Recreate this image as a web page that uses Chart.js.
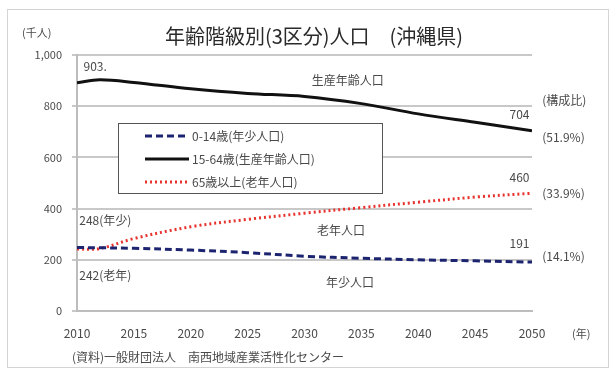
<!DOCTYPE html>
<html lang="ja">
<head>
<meta charset="utf-8">
<title>年齢階級別(3区分)人口 (沖縄県)</title>
<script src="https://cdn.jsdelivr.net/npm/chart.js@4.4.1/dist/chart.umd.min.js"></script>
<style>
  html, body { margin: 0; padding: 0; background: #fff; }
  #wrap { position: relative; width: 613px; height: 374px; }
  #frame { position: absolute; left: 7px; top: 9px; width: 602px; height: 359px; border: 1px solid #d4d4d4; box-sizing: border-box; }
</style>
</head>
<body>
<div id="wrap">
  <div id="frame"></div>
  <canvas id="popChart" width="613" height="374"></canvas>
</div>
<script>
// data (thousand persons)
const years = [2010, 2012, 2015, 2020, 2025, 2030, 2035, 2040, 2045, 2050];
const young = [248, 247, 245, 238, 228, 214, 206, 200, 196, 191];      // 0-14
const working = [892, 903, 893, 868, 850, 838, 810, 770, 737, 704];    // 15-64
const elderly = [242, 244, 283, 329, 358, 382, 404, 425, 445, 460];    // 65+
const seriesNames = ['0-14歳(年少人口)', '15-64歳(生産年齢人口)', '65歳以上(老年人口)'];
const yTicks = [0, 200, 400, 600, 800, 1000];
const xTicks = [2010, 2015, 2020, 2025, 2030, 2035, 2040, 2045, 2050];
const chartTitle = '年齢階級別(3区分)人口　(沖縄県)';

const FONT = '"Noto Sans CJK JP", "Noto Sans", sans-serif';
const TEXT = '#4a4a4a';

const toPoints = arr => arr.map((v, i) => ({ x: years[i], y: v }));

// text labels placed at data coordinates
const notes = [
  { x: 2011.6, y: 955, text: '903.', align: 'center' },
  { x: 2033.8, y: 902, text: '生産年齢人口', align: 'center' },
  { x: 2050.9, y: 822, text: '(構成比)', align: 'left' },
  { x: 2048.9, y: 766, text: '704', align: 'center' },
  { x: 2050.9, y: 678, text: '(51.9%)', align: 'left' },
  { x: 2048.9, y: 520, text: '460', align: 'center' },
  { x: 2050.9, y: 460, text: '(33.9%)', align: 'left' },
  { x: 2010.2, y: 352, text: '248(年少)', align: 'left' },
  { x: 2033.2, y: 316, text: '老年人口', align: 'center' },
  { x: 2048.9, y: 265, text: '191', align: 'center' },
  { x: 2050.9, y: 214, text: '(14.1%)', align: 'left' },
  { x: 2010.2, y: 140, text: '242(老年)', align: 'left' },
  { x: 2034.0, y: 110, text: '年少人口', align: 'center' }
];

const annotations = {
  id: 'annotations',
  afterDatasetsDraw(chart) {
    const { ctx, scales: { x, y } } = chart;
    ctx.save();
    ctx.fillStyle = TEXT;
    ctx.font = '12px ' + FONT;
    ctx.textBaseline = 'middle';
    notes.forEach(n => {
      ctx.textAlign = n.align;
      ctx.fillText(n.text, x.getPixelForValue(n.x), y.getPixelForValue(n.y));
    });

    // title
    ctx.fillStyle = '#2a2a2a';
    ctx.font = '20px ' + FONT;
    ctx.textAlign = 'center';
    ctx.fillText(chartTitle, 314, 36);

    // unit labels
    ctx.fillStyle = TEXT;
    ctx.font = '11px ' + FONT;
    ctx.textAlign = 'left';
    ctx.fillText('(千人)', 22, 33);
    ctx.fillText('(年)', 572, 334);
    ctx.font = '12px ' + FONT;
    ctx.fillText('(資料)一般財団法人　南西地域産業活性化センター', 72, 357);

    // legend box inside the plot
    const bx = 118, by = 123, bw = 264, bh = 70;
    ctx.fillStyle = '#fff';
    ctx.fillRect(bx, by, bw, bh);
    ctx.strokeStyle = '#555';
    ctx.lineWidth = 1;
    ctx.strokeRect(bx + 0.5, by + 0.5, bw, bh);
    chart.data.datasets.forEach((ds, i) => {
      const ly = by + 13 + i * 23;
      ctx.beginPath();
      ctx.setLineDash(ds.borderDash || []);
      ctx.strokeStyle = ds.borderColor;
      ctx.lineWidth = ds.borderWidth;
      ctx.moveTo(145, ly);
      ctx.lineTo(189, ly);
      ctx.stroke();
      ctx.setLineDash([]);
      ctx.fillStyle = TEXT;
      ctx.font = '12px ' + FONT;
      ctx.fillText(ds.label, 192, ly);
    });
    ctx.restore();
  }
};

const ctx = document.getElementById('popChart').getContext('2d');
new Chart(ctx, {
  type: 'line',
  data: {
    datasets: [
      {
        label: seriesNames[0],
        data: toPoints(young),
        borderColor: '#1c2470',
        borderWidth: 3,
        borderDash: [7, 4],
        pointRadius: 0,
        tension: 0.35,
        fill: false
      },
      {
        label: seriesNames[1],
        data: toPoints(working),
        borderColor: '#111',
        borderWidth: 3,
        pointRadius: 0,
        tension: 0.35,
        fill: false
      },
      {
        label: seriesNames[2],
        data: toPoints(elderly),
        borderColor: '#e8322e',
        borderWidth: 3,
        borderDash: [2, 3],
        pointRadius: 0,
        tension: 0.35,
        fill: false
      }
    ]
  },
  options: {
    responsive: false,
    animation: false,
    layout: { padding: { left: 0, right: 81, top: 55, bottom: 0 } },
    plugins: {
      legend: { display: false },
      tooltip: { enabled: false },
      title: { display: false }
    },
    scales: {
      x: {
        type: 'linear',
        min: xTicks[0],
        max: xTicks[xTicks.length - 1],
        afterFit(scale) { scale.height = 63; },
        afterBuildTicks(scale) { scale.ticks = xTicks.map(v => ({ value: v })); },
        ticks: {
          color: TEXT,
          font: { family: FONT, size: 12 },
          padding: 7,
          maxRotation: 0,
          callback: v => String(v)
        },
        grid: { display: false },
        border: { color: '#bdbdbd', width: 2 }
      },
      y: {
        min: yTicks[0],
        max: yTicks[yTicks.length - 1],
        afterFit(scale) { scale.width = 77; },
        afterBuildTicks(scale) { scale.ticks = yTicks.map(v => ({ value: v })); },
        ticks: {
          color: TEXT,
          font: { family: FONT, size: 11 },
          padding: 10,
          callback: v => v.toLocaleString('en-US')
        },
        grid: { color: '#c8c8c8', lineWidth: 2, tickLength: 5 },
        border: { color: '#bdbdbd', width: 2 }
      }
    }
  },
  plugins: [annotations]
});
</script>
</body>
</html>
